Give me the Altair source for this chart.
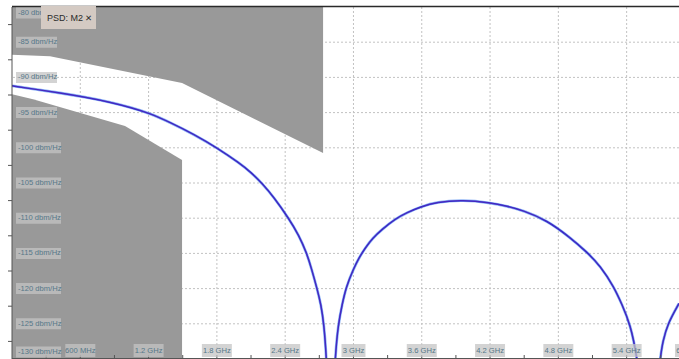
import altair as alt
import pandas as pd

# ---- data ----
freq_ghz = [0, 0.21, 0.42, 0.64, 0.86, 1.05, 1.21, 1.39, 1.60, 1.80, 2.00, 2.10, 2.194,
            2.30, 2.43, 2.52, 2.59, 2.63, 2.68, 2.715, 2.74, 2.765, 2.80, 2.835, 2.867,
            2.90, 2.935, 3.00, 3.05, 3.10, 3.17, 3.25, 3.366, 3.47, 3.59, 3.73, 3.96,
            4.20, 4.35, 4.49, 4.70, 4.90, 5.05, 5.17, 5.29, 5.36, 5.43, 5.50, 5.60,
            5.69, 5.72, 5.76, 5.86]
psd_dbm = [-91.2, -91.7, -92.2, -92.8, -93.5, -94.3, -95.1, -96.4, -98.1, -100.0, -102.2,
           -103.5, -105.0, -107.0, -110.0, -112.4, -115.0, -117.1, -120.0, -122.3, -125.0,
           -130.0, -145.0, -130.0, -125.0, -122.3, -119.8, -117.2, -115.6, -114.3, -112.8,
           -111.6, -110.1, -109.2, -108.4, -107.7, -107.4, -107.8, -108.3, -108.9, -110.3,
           -112.7, -114.8, -116.8, -119.8, -122.3, -125.0, -130.0, -145.0, -130.0, -127.4,
           -125.0, -122.1]

mask_upper_f = [0, 0.334, 1.494, 2.733]
mask_upper_db = [-86.8, -87.0, -90.8, -100.75]
mask_lower_f = [0, 0.185, 0.993, 1.494]
mask_lower_db = [-92.4, -93.1, -96.9, -101.75]

y_ticks = [-80, -85, -90, -95, -100, -105, -110, -115, -120, -125, -130]
y_labels = ["-80 dbm/Hz", "-85 dbm/Hz", "-90 dbm/Hz", "-95 dbm/Hz", "-100 dbm/Hz",
            "-105 dbm/Hz", "-110 dbm/Hz", "-115 dbm/Hz", "-120 dbm/Hz", "-125 dbm/Hz",
            "-130 dbm/Hz"]
x_ticks = [0.6, 1.2, 1.8, 2.4, 3.0, 3.6, 4.2, 4.8, 5.4, 6.0]
x_labels = ["600 MHz", "1.2 GHz", "1.8 GHz", "2.4 GHz", "3 GHz", "3.6 GHz", "4.2 GHz",
            "4.8 GHz", "5.4 GHz", "6 GHz"]
y_minor = [-82.5, -87.5, -92.5, -97.5, -102.5, -107.5, -112.5, -117.5, -122.5, -127.5]
x_minor = [0.3, 0.6, 0.9, 1.2, 1.5, 1.8, 2.1, 2.4, 2.7, 3.0, 3.3, 3.6, 3.9, 4.2, 4.5,
           4.8, 5.1, 5.4, 5.7]

W, H = 667, 352
FONT = "Liberation Sans, Arial, sans-serif"
LBL = 7.6

xs = alt.Scale(domain=[0, 5.86], nice=False, zero=False)
ys = alt.Scale(domain=[-130, -80], nice=False, zero=False)

curve = pd.DataFrame({"f": freq_ghz, "db": psd_dbm})
up = pd.DataFrame({"f": mask_upper_f, "db": mask_upper_db})
lo = pd.DataFrame({"f": mask_lower_f, "db": mask_lower_db})
yg = pd.DataFrame({"v": y_ticks, "label": y_labels})
xg = pd.DataFrame({"v": x_ticks, "label": x_labels})
ym = pd.DataFrame({"v": y_minor})
xm = pd.DataFrame({"v": x_minor})
one = pd.DataFrame({"a": [0]})


def X(f):
    return alt.X(f, type="quantitative", scale=xs, axis=None)


def Y(f):
    return alt.Y(f, type="quantitative", scale=ys, axis=None)


grid_dash = dict(color="#c2c2c2", strokeDash=[2, 2], strokeWidth=1)

ygrid = alt.Chart(yg).transform_filter("datum.v > -130 && datum.v < -80").mark_rule(
    **grid_dash).encode(y=Y("v"))
xgrid = alt.Chart(xg).transform_filter("datum.v < 5.86").mark_rule(
    **grid_dash).encode(x=X("v"))

upper = alt.Chart(up).mark_area(color="#999999", clip=True).encode(
    x=X("f"), y=Y("db"), y2=alt.datum(-80))
lower = alt.Chart(lo).mark_area(color="#999999", clip=True).encode(
    x=X("f"), y=Y("db"), y2=alt.datum(-130))

INTERP = "basis"
line_fringe = alt.Chart(curve).mark_line(
    interpolate=INTERP, clip=True, color="#6f9ff2", strokeWidth=2.8, opacity=0.75
).encode(x=X("f"), y=Y("db"))
line_main = alt.Chart(curve).mark_line(
    interpolate=INTERP, clip=True, color="#2424cc", strokeWidth=1.5
).encode(x=X("f"), y=Y("db"))
line_center = alt.Chart(curve).mark_line(
    interpolate=INTERP, clip=True, color="#a0309c", strokeWidth=0.6, opacity=0.55
).encode(x=X("f"), y=Y("db"))

left_line = alt.Chart(one).mark_rule(color="#555555").encode(
    x=alt.value(0), y=alt.value(0), y2=alt.value(H))
left_ticks = alt.Chart(ym).mark_rule(color="#555555").encode(
    y=Y("v"), x=alt.value(-4), x2=alt.value(0))
bottom_line = alt.Chart(one).mark_rule(color="#555555").encode(
    y=alt.value(H - 0.5), x=alt.value(0), x2=alt.value(W))
bottom_ticks = alt.Chart(xm).mark_rule(color="#555555").encode(
    x=X("v"), y=alt.value(H - 4), y2=alt.value(H))
top_line = alt.Chart(one).mark_rule(color="#2a2a2a", strokeWidth=1.5).encode(
    y=alt.value(-0.5), x=alt.value(0), x2=alt.value(W))

box_style = dict(color="#c4c4c4", opacity=0.75)

ylab_base = alt.Chart(yg).transform_calculate(yp="clamp(datum.v, -129.0, -80.85)")
ybox_short = ylab_base.transform_filter("datum.v > -100").mark_rect(
    yOffset=-5.5, y2Offset=5.5, **box_style).encode(
    y=Y("yp"), y2="yp:Q", x=alt.value(4), x2=alt.value(45))
ybox_long = ylab_base.transform_filter("datum.v <= -100").mark_rect(
    yOffset=-5.5, y2Offset=5.5, **box_style).encode(
    y=Y("yp"), y2="yp:Q", x=alt.value(4), x2=alt.value(49))
ytext = ylab_base.mark_text(
    align="left", baseline="middle", font=FONT, fontSize=LBL, color="#557788"
).encode(y=Y("yp"), x=alt.value(6), text="label:N")

xlab_base = alt.Chart(xg).transform_calculate(
    xp="min(datum.v, 5.93)", n="length(datum.label)")
xbox_long = xlab_base.transform_filter("datum.n == 7").mark_rect(
    xOffset=-15, x2Offset=15, **box_style).encode(
    x=X("xp"), x2="xp:Q", y=alt.value(337), y2=alt.value(350))
xbox_short = xlab_base.transform_filter("datum.n == 5").mark_rect(
    xOffset=-12, x2Offset=12, **box_style).encode(
    x=X("xp"), x2="xp:Q", y=alt.value(337), y2=alt.value(350))
xtext = xlab_base.mark_text(
    align="center", baseline="middle", font=FONT, fontSize=LBL, color="#557788"
).encode(x=X("xp"), y=alt.value(343.5), text="label:N")

psd_box = alt.Chart(one).mark_rect(color="#d4cac3").encode(
    x=alt.value(29), x2=alt.value(84), y=alt.value(-1), y2=alt.value(22))
psd_text = alt.Chart(one).mark_text(
    align="left", baseline="middle", font=FONT, fontSize=9, color="#2a2a2a"
).encode(x=alt.value(35), y=alt.value(11), text=alt.value("PSD: M2"))
psd_x = alt.Chart(one).mark_text(
    align="left", baseline="middle", font="DejaVu Sans", fontSize=8.5,
    fontWeight="bold", color="#2a2a2a"
).encode(x=alt.value(73), y=alt.value(11), text=alt.value("✕"))

chart = alt.layer(
    ygrid, xgrid, upper, lower, line_fringe, line_main, line_center,
    left_line, left_ticks, bottom_line, bottom_ticks, top_line,
    ybox_short, ybox_long, ytext, xbox_long, xbox_short, xtext,
    psd_box, psd_text, psd_x,
).properties(
    width=W, height=H,
    autosize=alt.AutoSizeParams(type="none"),
    padding={"left": 12, "top": 7, "right": 0, "bottom": 0},
    background="white",
).configure_view(stroke=None)

chart.save("out.html", embed_options={"renderer": "svg", "actions": False})
